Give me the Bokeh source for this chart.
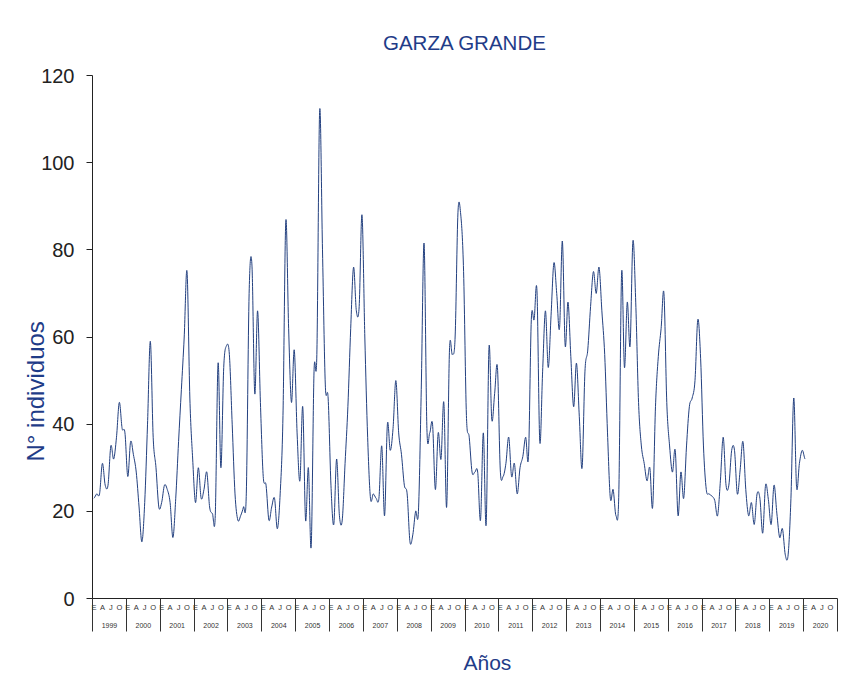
from bokeh.plotting import figure
from bokeh.models import (FixedTicker, LinearAxis, Range1d, Title, ColumnDataSource)
from bokeh.embed import file_html
from bokeh.resources import INLINE

# ---------------- data ----------------
years = [str(y) for y in range(1999, 2021)]
month_letters = ["E", "A", "J", "O"]   # Enero, Abril, Julio, Octubre

# Monthly counts, Jan 1999 .. Jan 2020
v1999 = [23, 24, 24, 31, 26, 26, 35, 32, 37, 45, 39, 38]
v2000 = [28, 36, 33, 29, 21, 13, 22, 40, 59, 37, 30, 21]
v2001 = [22, 26, 25, 22, 14, 23, 36, 48, 60, 75, 46, 32]
v2002 = [22, 30, 23, 25, 29, 21, 19.5, 19, 54, 30, 53, 58]
v2003 = [56, 40, 24, 18, 19, 21, 24, 70, 76.5, 47, 66, 45]
v2004 = [28, 26, 18, 21, 23, 16, 24, 42, 86.6, 62, 45, 57]
v2005 = [38, 27, 44, 18, 30, 12, 52, 56, 112, 80, 49, 46]
v2006 = [26, 17, 32, 19, 18, 31, 44, 62, 76, 66, 67, 88]
v2007 = [60, 37, 23, 24, 23, 23, 35, 19, 40, 34, 39, 50]
v2008 = [38, 33, 26, 24, 13, 14.6, 20, 20, 48, 81.5, 39, 38]
v2009 = [40, 25, 38, 32, 45, 21, 57, 56, 60, 88.5, 88, 75]
v2010 = [42, 37, 29, 29, 29, 18, 38, 17, 57.6, 41, 47, 53]
v2011 = [29.5, 28, 31, 37, 28, 31, 24, 30, 32.6, 37, 32.6, 64]
v2012 = [64, 70.6, 36, 52, 66, 53, 65, 77, 70, 62, 82, 58]
v2013 = [68, 55.5, 44, 54, 41.8, 30, 52, 57, 67, 75, 70, 76]
v2014 = [66, 56, 38, 23, 25, 19, 24, 74.7, 53, 68, 58, 82]
v2015 = [68, 45, 35, 31, 27, 30, 21, 44, 55.5, 62, 70, 45]
v2016 = [35, 29, 34, 19, 29, 23, 35, 44, 46, 50, 64, 55]
v2017 = [35, 25, 24, 23.5, 22.5, 19, 27, 37, 26, 26, 34, 34]
v2018 = [24, 29.5, 36, 25, 19, 22, 17, 24, 23, 15, 26, 22.7]
v2019 = [17, 26, 19.6, 14, 16, 10, 10, 23, 46, 25.5, 31, 34]
v2020 = [32]

values = (v1999 + v2000 + v2001 + v2002 + v2003 + v2004 + v2005 + v2006 +
          v2007 + v2008 + v2009 + v2010 + v2011 + v2012 + v2013 + v2014 +
          v2015 + v2016 + v2017 + v2018 + v2019 + v2020)
months_idx = list(range(len(values)))

y_ticks = [0, 20, 40, 60, 80, 100, 120]

LINE = "#23407F"
TEXT = "#1F3C88"
FONT = "Liberation Sans"

# ---------------- figure ----------------
n_slots = 12 * len(years)
p = figure(width=842, height=691, output_backend="svg", toolbar_location=None,
           x_range=Range1d(-0.5, n_slots - 0.5), y_range=Range1d(0, 120),
           min_border_left=92, min_border_right=5, min_border_top=75,
           min_border_bottom=92)
p.outline_line_color = None
p.xgrid.grid_line_color = None
p.ygrid.grid_line_color = None
p.background_fill_color = "white"
p.border_fill_color = "white"

# title
p.title = Title(text="GARZA GRANDE", align="center", text_font=FONT,
                text_font_size="20.5px", text_color=TEXT, text_font_style="normal",
                standoff=44)

# smooth line (Bezier segments through the monthly points)
n = len(values)
x0, y0, x1, y1, cx0, cy0, cx1, cy1 = [], [], [], [], [], [], [], []
for i in range(n - 1):
    ym1 = values[i - 1] if i > 0 else values[i]
    yp2 = values[i + 2] if i + 2 < n else values[i + 1]
    x0.append(months_idx[i]); y0.append(values[i])
    x1.append(months_idx[i + 1]); y1.append(values[i + 1])
    cx0.append(months_idx[i] + 1 / 3); cy0.append(values[i] + (values[i + 1] - ym1) / 6)
    cx1.append(months_idx[i + 1] - 1 / 3); cy1.append(values[i + 1] - (yp2 - values[i]) / 6)
src = ColumnDataSource(dict(x0=x0, y0=y0, x1=x1, y1=y1, cx0=cx0, cy0=cy0, cx1=cx1, cy1=cy1))
p.bezier(x0="x0", y0="y0", x1="x1", y1="y1", cx0="cx0", cy0="cy0", cx1="cx1", cy1="cy1",
         source=src, line_color=LINE, line_width=1.0)

# y axis
ya = p.yaxis[0]
ya.ticker = FixedTicker(ticks=y_ticks)
ya.major_tick_out = 6
ya.major_tick_in = 0
ya.minor_tick_out = 0
ya.minor_tick_in = 0
ya.major_label_text_font = FONT
ya.major_label_text_font_size = "20px"
ya.major_label_text_color = "#222222"
ya.major_label_standoff = 12
ya.axis_line_color = "#222222"
ya.major_tick_line_color = "#222222"

# x axis: month letters + year separators
xa = p.xaxis[0]
month_ticks = [12 * k + j for k in range(len(years)) for j in (0, 3, 6, 9)]
sep_ticks = [12 * k - 0.5 for k in range(len(years) + 1)]
sep_ticks[0] = -0.4999
sep_ticks[-1] = n_slots - 0.5001
xa.ticker = FixedTicker(ticks=month_ticks, minor_ticks=sep_ticks)
xa.major_label_overrides = {t: month_letters[(t % 12) // 3] for t in month_ticks}
xa.major_tick_out = 0
xa.major_tick_in = 0
xa.minor_tick_out = 33
xa.minor_tick_in = 0
xa.minor_tick_line_color = "#333333"
xa.axis_line_color = "#222222"
xa.major_label_text_font = FONT
xa.major_label_text_font_size = "7.5px"
xa.major_label_text_color = "#333333"
xa.major_label_standoff = -29

# year labels row
year_ticks = [12 * k + 5.5 for k in range(len(years))]
ya2 = LinearAxis(ticker=FixedTicker(ticks=year_ticks))
ya2.major_label_overrides = {t: years[i] for i, t in enumerate(year_ticks)}
ya2.major_tick_out = 0
ya2.major_tick_in = 0
ya2.minor_tick_out = 0
ya2.minor_tick_in = 0
ya2.axis_line_color = None
ya2.major_label_text_font = FONT
ya2.major_label_text_font_size = "7px"
ya2.major_label_text_color = "#333333"
ya2.major_label_standoff = 8
p.add_layout(ya2, "below")

# axis titles
p.add_layout(Title(text="Años", align="left", text_font=FONT, text_font_size="21px",
                   text_color=TEXT, text_font_style="normal", offset=371, standoff=36), "below")
p.add_layout(Title(text="N° individuos", align="left", text_font=FONT, text_font_size="24px",
                   text_color=TEXT, text_font_style="normal", offset=137, standoff=-20), "left")

open("out.html", "w").write(file_html(p, INLINE))
